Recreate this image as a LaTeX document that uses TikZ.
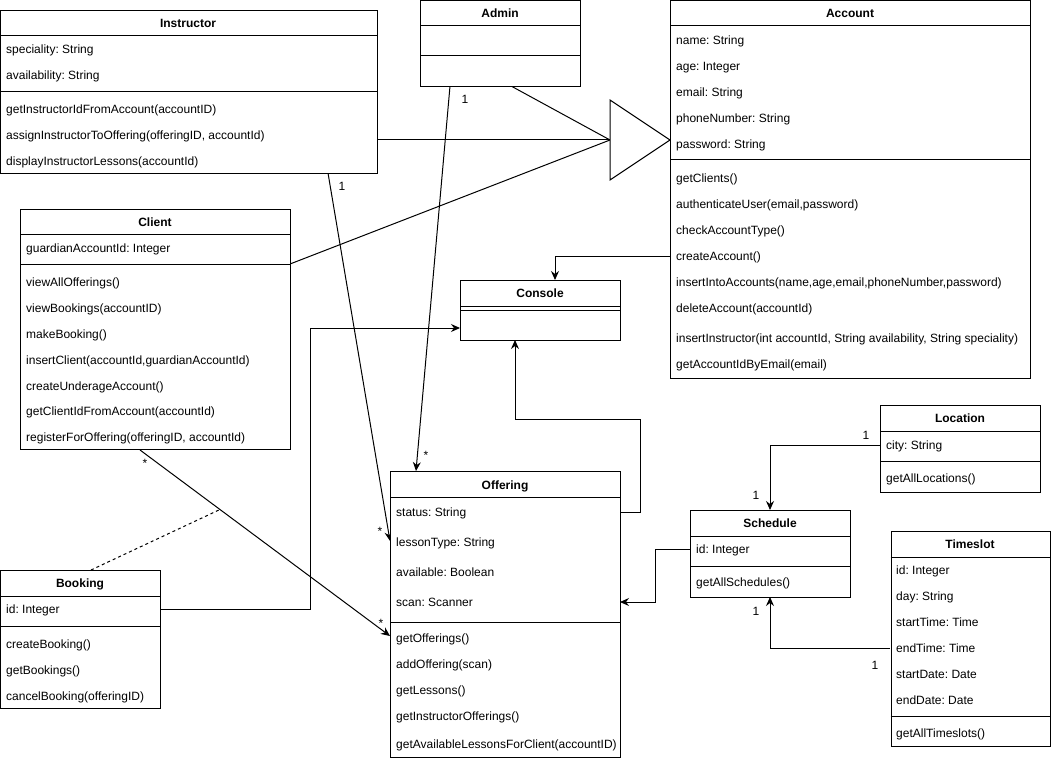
\documentclass[tikz,border=0pt]{standalone}
\usepackage{fontspec}
\setmainfont{Liberation Sans}
\usetikzlibrary{arrows.meta}
\frenchspacing
\tikzset{
  cls/.style={draw, line width=1pt, anchor=north west, inner sep=0pt, fill=white},
  row/.style={anchor=west, inner sep=0pt, font=\fontsize{12}{14}\selectfont\frenchspacing, text height=8.6pt, text depth=0pt},
  ttl/.style={anchor=center, inner sep=0pt, font=\fontsize{12}{14}\selectfont\bfseries, text height=8.6pt, text depth=0pt},
  mult/.style={inner sep=0pt, font=\fontsize{12}{14}\selectfont, text height=8pt, text depth=0pt},
  sepline/.style={line width=1pt},
  conn/.style={line width=1pt},
  arr/.style={line width=1pt, -{Stealth[length=9pt,width=8pt,inset=3pt]}},
}
\begin{document}
\begin{tikzpicture}[x=1pt,y=-1pt]
\useasboundingbox (0,0) rectangle (1051,759);
\fill[white] (0,0) rectangle (1051,759);

% ---------- connectors (drawn first) ----------
\coordinate (triL) at (610,140);
\coordinate (triTop) at (610,100);
\coordinate (triApex) at (670,140);
\coordinate (triBot) at (610,180);

\coordinate (instrR) at (377,140);
\coordinate (adminB) at (511,86);
\coordinate (clientR) at (290,264);
\draw[conn] (instrR) -- (triL);
\draw[conn] (adminB) -- (triL);
\draw[conn] (clientR) -- (triL);
\draw[conn, fill=white] (triTop) -- (triApex) -- (triBot) -- cycle;

% Admin -> Offering
\coordinate (adminB2) at (450,86);
\coordinate (offT) at (416,471);
\draw[arr] (adminB2) -- (offT);
\node[mult] (m1) at (465,100) {1};
\node[mult] (m2) at (426,455) {*};

% Instructor -> Offering
\coordinate (instrB) at (328,173);
\coordinate (offL1) at (390,541);
\draw[arr] (instrB) -- (offL1);
\node[mult] (m3) at (342,187) {1};
\node[mult] (m4) at (380,531) {*};

% Client -> Offering
\coordinate (clientB) at (140,450);
\coordinate (offL2) at (390,636);
\draw[arr] (clientB) -- (offL2);
\node[mult] (m5) at (145,463) {*};
\node[mult] (m6) at (381,623) {*};

% Booking association class (dashed)
\coordinate (bookT) at (91,570);
\coordinate (assoc) at (220,509.5);
\draw[conn, dashed, dash pattern=on 3pt off 3pt] (bookT) -- (assoc);

% Booking -> Console
\coordinate (bookR) at (160,609);
\coordinate (consL) at (460,328);
\draw[arr] (bookR) -- (310,609) -- (310,328) -- (consL);

% Account -> Console
\coordinate (accL) at (670,256);
\coordinate (consT) at (555,280);
\draw[arr] (accL) -- (555,256) -- (consT);

% Offering -> Console
\coordinate (offR1) at (620,512);
\coordinate (consB) at (515,340);
\draw[arr] (offR1) -- (640,512) -- (640,419) -- (515,419) -- (consB);

% Schedule -> Offering
\coordinate (schL) at (690,549);
\coordinate (offR2) at (620,602);
\draw[arr] (schL) -- (655,549) -- (655,602) -- (offR2);

% Location -> Schedule
\coordinate (locL) at (880,445);
\coordinate (schT) at (770,510);
\draw[arr] (locL) -- (770,445) -- (schT);
\node[mult] (m7) at (866,435) {1};
\node[mult] (m8) at (756,495) {1};

% Timeslot -> Schedule
\coordinate (tsL) at (890,648);
\coordinate (schB) at (770,597);
\draw[arr] (tsL) -- (770,648) -- (schB);
\node[mult] (m9) at (756,611) {1};
\node[mult] (m10) at (875,665) {1};

% ---------- Instructor ----------
\node[cls, minimum width=377pt, minimum height=163pt] (instr) at (0,10) {};
\draw[sepline] (0,36) -- (377,36);
\draw[sepline] (0,92) -- (377,92);
\node[ttl] (instrT) at (188,23) {Instructor};
\node[row] (i1) at (6,49) {speciality: String};
\node[row] (i2) at (6,75) {availability: String};
\node[row] (i3) at (6,109) {getInstructorIdFromAccount(accountID)};
\node[row] (i4) at (6,135) {assignInstructorToOffering(offeringID, accountId)};
\node[row] (i5) at (6,161) {displayInstructorLessons(accountId)};

% ---------- Admin ----------
\node[cls, minimum width=160pt, minimum height=86pt] (admin) at (420,0) {};
\draw[sepline] (420,26) -- (580,26);
\draw[sepline] (420,56) -- (580,56);
\node[ttl] (adminT) at (500,13) {Admin};

% ---------- Account ----------
\node[cls, minimum width=360pt, minimum height=378pt] (acc) at (670,0) {};
\draw[sepline] (670,26) -- (1030,26);
\draw[sepline] (670,160) -- (1030,160);
\node[ttl] (accT) at (850,13) {Account};
\node[row] (a1) at (676,40) {name: String};
\node[row] (a2) at (676,66) {age: Integer};
\node[row] (a3) at (676,92) {email: String};
\node[row] (a4) at (676,118) {phoneNumber: String};
\node[row] (a5) at (676,144) {password: String};
\node[row] (a6) at (676,178) {getClients()};
\node[row] (a7) at (676,204) {authenticateUser(email,password)};
\node[row] (a8) at (676,230) {checkAccountType()};
\node[row] (a9) at (676,256) {createAccount()};
\node[row] (a10) at (676,282) {insertIntoAccounts(name,age,email,phoneNumber,password)};
\node[row] (a11) at (676,308) {deleteAccount(accountId)};
\node[row] (a12) at (676,338) {insertInstructor(int accountId, String availability, String speciality)};
\node[row] (a13) at (676,364) {getAccountIdByEmail(email)};

% ---------- Client ----------
\node[cls, minimum width=270pt, minimum height=240pt] (client) at (20,209) {};
\draw[sepline] (20,235) -- (290,235);
\draw[sepline] (20,264) -- (290,264);
\node[ttl] (clientT) at (155,222) {Client};
\node[row] (c1) at (26,248) {guardianAccountId: Integer};
\node[row] (c2) at (26,282) {viewAllOfferings()};
\node[row] (c3) at (26,308) {viewBookings(accountID)};
\node[row] (c4) at (26,334) {makeBooking()};
\node[row] (c5) at (26,360) {insertClient(accountId,guardianAccountId)};
\node[row] (c6) at (26,386) {createUnderageAccount()};
\node[row] (c7) at (26,411) {getClientIdFromAccount(accountId)};
\node[row] (c8) at (26,437) {registerForOffering(offeringID, accountId)};

% ---------- Console ----------
\node[cls, minimum width=160pt, minimum height=60pt] (cons) at (460,280) {};
\draw[sepline] (460,306) -- (620,306);
\draw[sepline] (460,310) -- (620,310);
\node[ttl] (consTt) at (540,293) {Console};

% ---------- Offering ----------
\node[cls, minimum width=230pt, minimum height=286pt] (off) at (390,471) {};
\draw[sepline] (390,497) -- (620,497);
\draw[sepline] (390,622) -- (620,622);
\node[ttl] (offTt) at (505,485) {Offering};
\node[row] (o1) at (396,512) {status: String};
\node[row] (o2) at (396,542) {lessonType: String};
\node[row] (o3) at (396,572) {available: Boolean};
\node[row] (o4) at (396,602) {scan: Scanner};
\node[row] (o5) at (396,638) {getOfferings()};
\node[row] (o6) at (396,664) {addOffering(scan)};
\node[row] (o7) at (396,690) {getLessons()};
\node[row] (o8) at (396,716) {getInstructorOfferings()};
\node[row] (o9) at (396,744) {getAvailableLessonsForClient(accountID)};

% ---------- Booking ----------
\node[cls, minimum width=160pt, minimum height=138pt] (book) at (0,570) {};
\draw[sepline] (0,596) -- (160,596);
\draw[sepline] (0,626) -- (160,626);
\node[ttl] (bookTt) at (80,583) {Booking};
\node[row] (b1) at (6,609) {id: Integer};
\node[row] (b2) at (6,644) {createBooking()};
\node[row] (b3) at (6,670) {getBookings()};
\node[row] (b4) at (6,696) {cancelBooking(offeringID)};

% ---------- Location ----------
\node[cls, minimum width=160pt, minimum height=87pt] (loc) at (880,405) {};
\draw[sepline] (880,431) -- (1040,431);
\draw[sepline] (880,461) -- (1040,461);
\node[ttl] (locTt) at (960,418) {Location};
\node[row] (l1) at (886,445) {city: String};
\node[row] (l2) at (886,478) {getAllLocations()};

% ---------- Schedule ----------
\node[cls, minimum width=160pt, minimum height=87pt] (sch) at (690,510) {};
\draw[sepline] (690,536) -- (850,536);
\draw[sepline] (690,566) -- (850,566);
\node[ttl] (schTt) at (770,523) {Schedule};
\node[row] (s1) at (696,549) {id: Integer};
\node[row] (s2) at (696,582) {getAllSchedules()};

% ---------- Timeslot ----------
\node[cls, minimum width=159pt, minimum height=215pt] (ts) at (890.5,531) {};
\draw[sepline] (890.5,557) -- (1049.5,557);
\draw[sepline] (890.5,716) -- (1049.5,716);
\node[ttl] (tsTt) at (970,544) {Timeslot};
\node[row] (t1) at (896,570) {id: Integer};
\node[row] (t2) at (896,596) {day: String};
\node[row] (t3) at (896,622) {startTime: Time};
\node[row] (t4) at (896,648) {endTime: Time};
\node[row] (t5) at (896,674) {startDate: Date};
\node[row] (t6) at (896,700) {endDate: Date};
\node[row] (t7) at (896,733) {getAllTimeslots()};
\end{tikzpicture}
\end{document}
